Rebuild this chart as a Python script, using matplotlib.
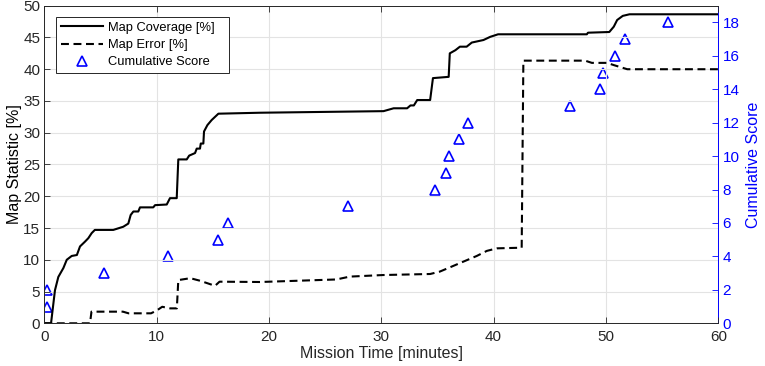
import matplotlib
matplotlib.use("Agg")
import matplotlib.pyplot as plt

plt.rcParams['font.family'] = ['Liberation Sans', 'DejaVu Sans']

# Map coverage [%] vs mission time [minutes]
cov_t = [0.0, 0.6, 0.95, 1.25, 1.7, 2.0, 2.44, 2.9, 3.18, 3.62, 3.92, 4.22, 4.5, 6.14, 7.03,
         7.48, 7.69, 7.93, 8.37, 8.52, 9.7, 9.86, 10.9, 11.19, 11.79, 11.93, 12.68, 12.9,
         13.42, 13.57, 13.86, 13.93, 14.16, 14.22, 14.52, 14.9, 15.5, 19.2, 30.2, 31.1,
         32.3, 32.6, 32.9, 33.2, 34.35, 34.6, 36.0, 36.1, 36.6, 37.0, 37.6, 38.06, 39.1,
         39.7, 40.4, 48.3, 48.4, 50.3, 50.7, 51.0, 51.5, 52.1, 60.0]
cov_v = [0.0, 0.0, 5.2, 7.3, 8.7, 10.0, 10.6, 10.75, 12.1, 12.85, 13.4, 14.2, 14.7, 14.7, 15.2,
         15.7, 17.05, 17.6, 17.6, 18.25, 18.25, 18.6, 18.7, 19.7, 19.7, 25.8, 25.8, 26.4,
         26.8, 27.5, 27.5, 28.3, 28.3, 30.2, 31.2, 32.0, 33.0, 33.15, 33.4, 33.85,
         33.85, 34.3, 34.3, 35.15, 35.15, 38.6, 38.8, 42.5, 43.0, 43.55, 43.55, 44.2, 44.6,
         45.1, 45.5, 45.5, 45.75, 45.86, 46.7, 47.75, 48.4, 48.65, 48.65]

# Map error [%]
err_t = [0.0, 4.07, 4.2, 7.0, 7.5, 9.5, 10.0, 10.5, 11.2, 11.8, 11.93, 13.0, 13.86, 15.2,
         15.6, 19.2, 26.0, 27.2, 30.2, 34.35, 35.2, 36.1, 37.3, 38.5, 39.4, 40.3, 42.5,
         42.65, 48.15, 48.75, 50.1, 50.7, 51.9, 60.0]
err_v = [0.0, 0.0, 1.83, 1.83, 1.57, 1.57, 2.0, 2.6, 2.35, 2.35, 6.8, 7.1, 6.7, 5.9,
         6.55, 6.5, 6.9, 7.35, 7.6, 7.76, 8.13, 8.8, 9.7, 10.6, 11.4, 11.8, 11.9,
         41.35, 41.35, 41.0, 41.0, 40.65, 40.0, 40.0]

# Cumulative score events
score_t = [0.2, 0.25, 5.3, 11.0, 15.47, 16.33, 27.0, 34.8, 35.77, 36.04, 36.9, 37.73,
           46.8, 49.5, 49.7, 50.8, 51.7, 55.5]
score_v = [1, 2, 3, 4, 5, 6, 7, 8, 9, 10, 11, 12, 13, 14, 15, 16, 17, 18]

x_ticks = [0, 10, 20, 30, 40, 50, 60]
y_ticks = [0, 5, 10, 15, 20, 25, 30, 35, 40, 45, 50]
y2_ticks = [0, 2, 4, 6, 8, 10, 12, 14, 16, 18]

axcol = '#262626'
blue = '#0000ff'

fig = plt.figure(figsize=(7.65, 3.66), dpi=100)
ax = fig.add_axes([0.0579, 0.1167, 0.8810, 0.8677])
ax2 = ax.twinx()

l1, = ax.plot(cov_t, cov_v, color='black', lw=1.5, label='Map Coverage [%]')
l2, = ax.plot(err_t, err_v, color='black', lw=1.5, linestyle=(0, (3.8, 2.2)),
              label='Map Error [%]')
l3, = ax2.plot(score_t, score_v, linestyle='none', marker='^', markersize=7,
               markerfacecolor='none', markeredgecolor=blue, markeredgewidth=1.2,
               label='Cumulative Score')

ax.set_xlim(0, 60)
ax.set_ylim(0, 50)
ax2.set_ylim(0, 19)
ax.set_xticks(x_ticks)
ax.set_yticks(y_ticks)
ax2.set_yticks(y2_ticks)

ax.grid(True, color='#e3e3e3', lw=0.8)
ax.set_axisbelow(True)

for a in (ax, ax2):
    a.tick_params(direction='in', length=4, width=0.6, labelsize=11)
ax.tick_params(axis='x', top=True, colors=axcol, labelcolor=axcol, pad=5)
ax.tick_params(axis='y', colors=axcol, labelcolor=axcol, pad=3)
ax2.tick_params(axis='y', colors=blue, labelcolor=blue, pad=3)

for s in ['left', 'bottom', 'top']:
    ax.spines[s].set_color(axcol)
    ax.spines[s].set_linewidth(0.7)
for s in ['left', 'bottom', 'top']:
    ax2.spines[s].set_visible(False)
ax.spines['right'].set_visible(False)
ax2.spines['right'].set_color(blue)
ax2.spines['right'].set_linewidth(0.7)

ax.set_xlabel('Mission Time [minutes]', fontsize=11.5, color=axcol, labelpad=1)
ax.set_ylabel('Map Statistic [%]', fontsize=11.5, color='black', labelpad=1)
ax2.set_ylabel('Cumulative Score', fontsize=11.5, color=blue, labelpad=5)

leg = ax.legend(handles=[l1, l2, l3], loc='upper left',
                bbox_to_anchor=(0.0174, 0.7955, 0.2567, 0.168), mode='expand',
                borderaxespad=0,
                fontsize=9.3, handlelength=3.3, handletextpad=0.4,
                labelspacing=0.4, numpoints=1, fancybox=False,
                framealpha=1, edgecolor=axcol, borderpad=0.35)
leg.get_frame().set_linewidth(0.7)
ax.set_zorder(ax2.get_zorder() + 1)
ax.patch.set_visible(False)

fig.savefig('out.png', dpi=100)
